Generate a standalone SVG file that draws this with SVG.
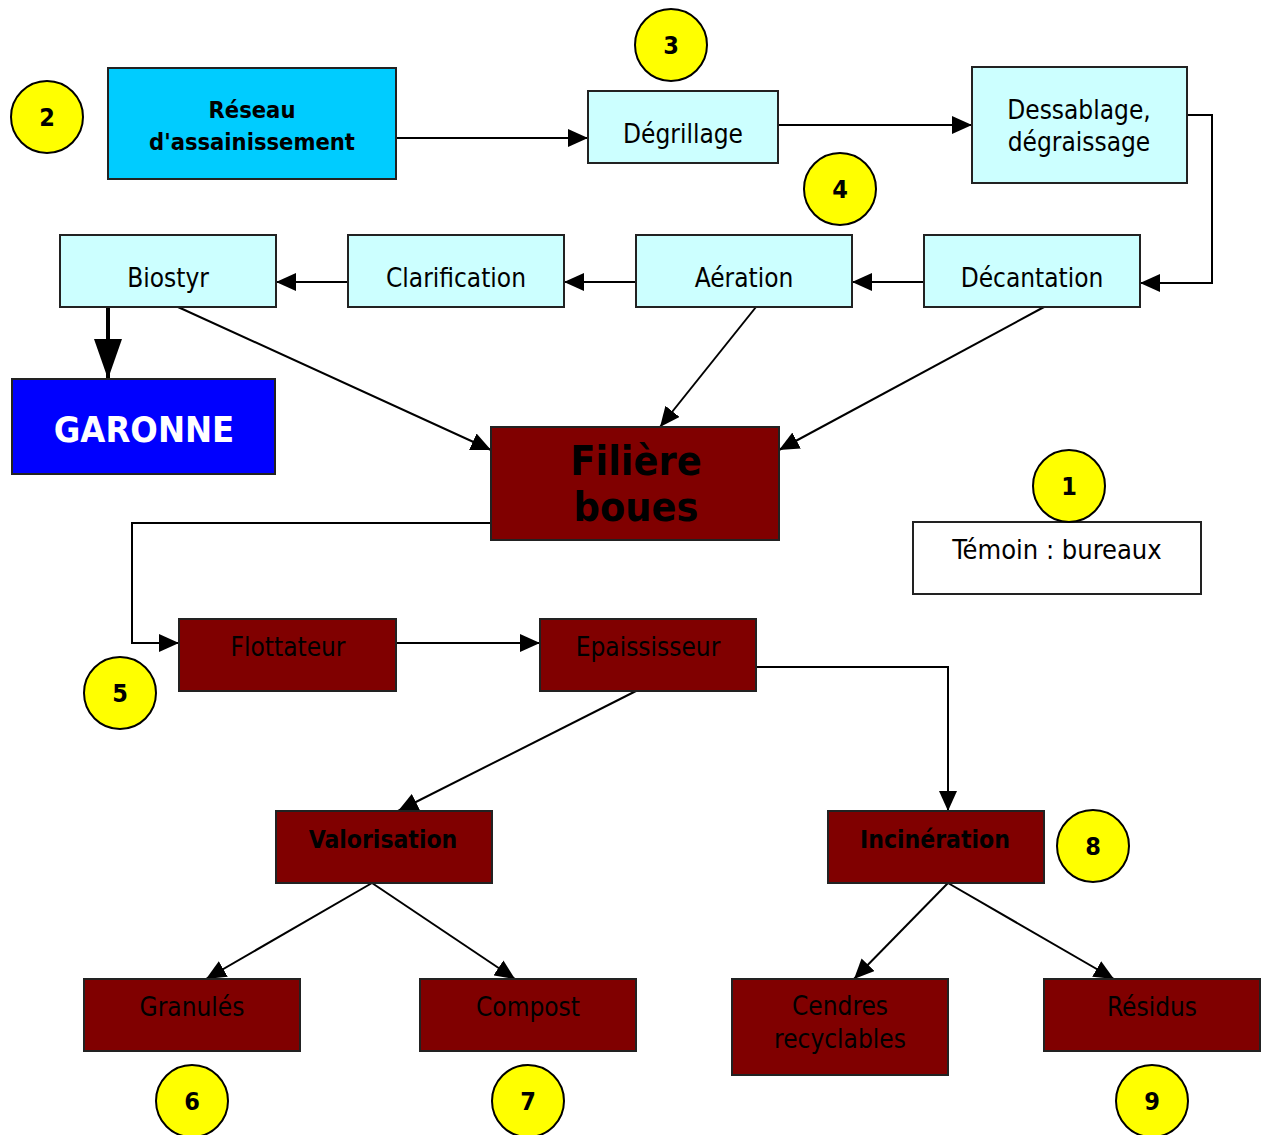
<svg xmlns="http://www.w3.org/2000/svg" width="1262" height="1135" viewBox="0 0 1262 1135">
<style>
text{font-family:"DejaVu Sans Condensed","DejaVu Sans",sans-serif;text-anchor:middle;fill:#000}
.b{stroke:#222;stroke-width:2}
.cyan{fill:#CCFFFF}
.red{fill:#800000}
.t{font-size:26px}
.bold{font-weight:bold}
.num circle{fill:#FFFF00;stroke:#000;stroke-width:2}
.num text{font-size:25px;font-weight:bold}
.c{fill:none;stroke:#000;stroke-width:2}
</style>
<defs>
<marker id="a" viewBox="0 0 20 18" refX="20" refY="9" markerWidth="20" markerHeight="18" markerUnits="userSpaceOnUse" orient="auto"><path d="M0,0L20,9L0,18z" fill="#000"/></marker>
<marker id="big" viewBox="0 0 40 28" refX="40" refY="14" markerWidth="40" markerHeight="28" markerUnits="userSpaceOnUse" orient="auto"><path d="M0,0L40,14L0,28z" fill="#000"/></marker>
</defs>
<rect width="1262" height="1135" fill="#fff"/>
<g id="connectors">
<path class="c" d="M396,138H588" marker-end="url(#a)"/>
<path class="c" d="M778,125H972" marker-end="url(#a)"/>
<path class="c" d="M1187,115H1212V283H1140" marker-end="url(#a)"/>
<path class="c" d="M924,282H852" marker-end="url(#a)"/>
<path class="c" d="M636,282H564" marker-end="url(#a)"/>
<path class="c" d="M348,282H276" marker-end="url(#a)"/>
<path d="M108,307V379" fill="none" stroke="#000" stroke-width="4" marker-end="url(#big)"/>
<path class="c" d="M178,307L491,450" marker-end="url(#a)"/>
<path class="c" d="M756,307L660,427" marker-end="url(#a)"/>
<path class="c" d="M1044,307L779,450" marker-end="url(#a)"/>
<path class="c" d="M491,523H132V643H179" marker-end="url(#a)"/>
<path class="c" d="M396,643H540" marker-end="url(#a)"/>
<path class="c" d="M756,667H948V811" marker-end="url(#a)"/>
<path class="c" d="M636,691L398,811" marker-end="url(#a)"/>
<path class="c" d="M372,883L206,979" marker-end="url(#a)"/>
<path class="c" d="M372,883L515,979" marker-end="url(#a)"/>
<path class="c" d="M948,883L854,979" marker-end="url(#a)"/>
<path class="c" d="M948,883L1114,979" marker-end="url(#a)"/>
</g>
<g id="reseau"><rect class="b" x="108" y="68" width="288" height="111" fill="#00CCFF"/><text class="bold" x="252" y="118" font-size="23.5">Réseau</text><text class="bold" x="252" y="150" font-size="23.5">d'assainissement</text></g>
<g id="degrillage"><rect class="b cyan" x="588" y="91" width="190" height="72"/><text class="t" x="683" y="143">Dégrillage</text></g>
<g id="dessablage"><rect class="b cyan" x="972" y="67" width="215" height="116"/><text class="t" x="1079" y="119">Dessablage,</text><text class="t" x="1079" y="151">dégraissage</text></g>
<g id="decantation"><rect class="b cyan" x="924" y="235" width="216" height="72"/><text class="t" x="1032" y="287">Décantation</text></g>
<g id="aeration"><rect class="b cyan" x="636" y="235" width="216" height="72"/><text class="t" x="744" y="287">Aération</text></g>
<g id="clarification"><rect class="b cyan" x="348" y="235" width="216" height="72"/><text class="t" x="456" y="287">Clarification</text></g>
<g id="biostyr"><rect class="b cyan" x="60" y="235" width="216" height="72"/><text class="t" x="168" y="287">Biostyr</text></g>
<g id="garonne"><rect class="b" x="12" y="379" width="263" height="95" fill="#0000FF"/><text x="144" y="442" font-size="36" font-weight="bold" style="fill:#fff">GARONNE</text></g>
<g id="filiere"><rect class="b red" x="491" y="427" width="288" height="113"/><text class="bold" x="636" y="475" font-size="41">Filière</text><text class="bold" x="636" y="521" font-size="41">boues</text></g>
<g id="temoin"><rect class="b" x="913" y="522" width="288" height="72" fill="#fff"/><text x="1057" y="559" font-size="27">Témoin : bureaux</text></g>
<g id="flottateur"><rect class="b red" x="179" y="619" width="217" height="72"/><text class="t" x="288" y="656">Flottateur</text></g>
<g id="epaississeur"><rect class="b red" x="540" y="619" width="216" height="72"/><text class="t" x="648" y="656">Epaississeur</text></g>
<g id="valorisation"><rect class="b red" x="276" y="811" width="216" height="72"/><text class="bold" x="383" y="848" font-size="24.5">Valorisation</text></g>
<g id="incineration"><rect class="b red" x="828" y="811" width="216" height="72"/><text class="bold" x="935" y="848" font-size="24.5">Incinération</text></g>
<g id="granules"><rect class="b red" x="84" y="979" width="216" height="72"/><text class="t" x="192" y="1016">Granulés</text></g>
<g id="compost"><rect class="b red" x="420" y="979" width="216" height="72"/><text class="t" x="528" y="1016">Compost</text></g>
<g id="cendres"><rect class="b red" x="732" y="979" width="216" height="96"/><text class="t" x="840" y="1015">Cendres</text><text class="t" x="840" y="1048">recyclables</text></g>
<g id="residus"><rect class="b red" x="1044" y="979" width="216" height="72"/><text class="t" x="1152" y="1016">Résidus</text></g>
<g id="n1" class="num"><circle cx="1069" cy="486" r="36"/><text x="1069" y="495">1</text></g>
<g id="n2" class="num"><circle cx="47" cy="117" r="36"/><text x="47" y="126">2</text></g>
<g id="n3" class="num"><circle cx="671" cy="45" r="36"/><text x="671" y="54">3</text></g>
<g id="n4" class="num"><circle cx="840" cy="189" r="36"/><text x="840" y="198">4</text></g>
<g id="n5" class="num"><circle cx="120" cy="693" r="36"/><text x="120" y="702">5</text></g>
<g id="n6" class="num"><circle cx="192" cy="1101" r="36"/><text x="192" y="1110">6</text></g>
<g id="n7" class="num"><circle cx="528" cy="1101" r="36"/><text x="528" y="1110">7</text></g>
<g id="n8" class="num"><circle cx="1093" cy="846" r="36"/><text x="1093" y="855">8</text></g>
<g id="n9" class="num"><circle cx="1152" cy="1101" r="36"/><text x="1152" y="1110">9</text></g>
</svg>
